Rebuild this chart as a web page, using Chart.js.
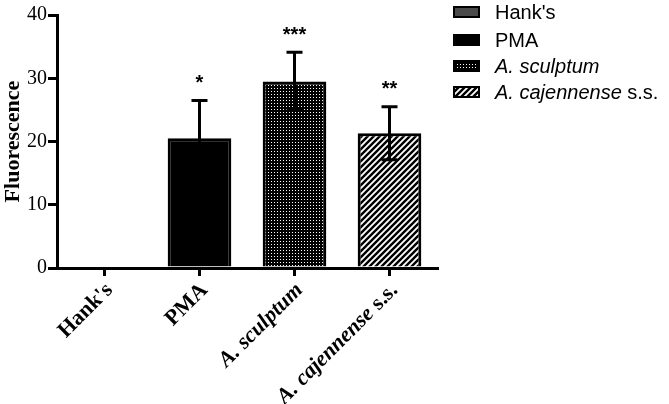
<!DOCTYPE html>
<html>
<head>
<meta charset="utf-8">
<script src="https://cdn.jsdelivr.net/npm/chart.js@4.4.1/dist/chart.umd.min.js"></script>
<style>
  body { margin: 0; background: #fff; }
  #wrap { width: 669px; height: 404px; }
</style>
</head>
<body>
<div id="wrap"><canvas id="plot-area"></canvas></div>
<script>
const categories = ["Hank's", "PMA", "A. sculptum", "A. cajennense s.s."];
// label pieces: [text, italic]
const labelParts = [
  [["Hank's", false]],
  [["PMA", false]],
  [["A. sculptum", true]],
  [["A. cajennense", true], [" s.s.", false]],
];
const means = [0, 20.5, 29.5, 21.3];
const sds = [0, 6.0, 4.6, 4.2];
const stars = ["", "*", "***", "**"];
const yTicks = [0, 10, 20, 30, 40];

function makeDots() {
  const c = document.createElement("canvas");
  c.width = 3; c.height = 3;
  const g = c.getContext("2d");
  g.fillStyle = "#000";
  g.fillRect(0, 0, 3, 3);
  g.fillStyle = "#fff";
  g.fillRect(1, 1, 1, 1);
  return g.createPattern(c, "repeat");
}

function makeHatch() {
  const c = document.createElement("canvas");
  c.width = 6; c.height = 6;
  const g = c.getContext("2d");
  g.fillStyle = "#fff";
  g.fillRect(0, 0, 6, 6);
  g.strokeStyle = "#000";
  g.lineWidth = 2.4;
  g.beginPath();
  g.moveTo(-3, 3); g.lineTo(3, -3);
  g.moveTo(0, 6); g.lineTo(6, 0);
  g.moveTo(3, 9); g.lineTo(9, 3);
  g.stroke();
  return g.createPattern(c, "repeat");
}

const fills = ["#4a4a4a", "#000000", makeDots(), makeHatch()];

function drawParts(ctx, parts, x, y, align, size, bold, family) {
  const fontOf = p => (p[1] ? "italic " : "") + (bold ? "bold " : "") + size + "px " + family;
  const w = parts.map(p => { ctx.font = fontOf(p); return ctx.measureText(p[0]).width; });
  const total = w.reduce((a, b) => a + b, 0);
  let cx = align === "right" ? x - total : x;
  ctx.textAlign = "left";
  parts.forEach((p, i) => {
    ctx.font = fontOf(p);
    ctx.fillText(p[0], cx, y);
    cx += w[i];
  });
}

const extras = {
  id: "extras",
  afterDatasetsDraw(chart) {
    const ctx = chart.ctx;
    const x = chart.scales.x, y = chart.scales.y;
    ctx.save();
    // error bars
    ctx.strokeStyle = "#000";
    ctx.lineWidth = 3;
    means.forEach((m, i) => {
      if (!sds[i]) return;
      const px = x.getPixelForValue(i);
      const top = y.getPixelForValue(m + sds[i]);
      const bot = y.getPixelForValue(m - sds[i]);
      ctx.beginPath();
      ctx.moveTo(px, bot); ctx.lineTo(px, top);
      ctx.moveTo(px - 8, top); ctx.lineTo(px + 8, top);
      ctx.moveTo(px - 8, bot); ctx.lineTo(px + 8, bot);
      ctx.stroke();
    });
    // significance stars
    ctx.fillStyle = "#000";
    ctx.font = "bold 20px 'Liberation Sans'";
    ctx.textAlign = "center";
    ctx.textBaseline = "middle";
    stars.forEach((s, i) => {
      if (!s) return;
      const px = x.getPixelForValue(i);
      const top = y.getPixelForValue(means[i] + sds[i]);
      ctx.fillText(s, px, top - 17);
    });
    // rotated category labels
    labelParts.forEach((parts, i) => {
      const px = x.getPixelForValue(i);
      ctx.save();
      ctx.translate(px + 5, y.bottom + 19);
      ctx.rotate(-Math.PI / 4);
      ctx.textBaseline = "middle";
      drawParts(ctx, parts, 0, 0, "right", 22, true, "'Liberation Serif'");
      ctx.restore();
    });
    // legend
    const rows = [12, 40, 66, 92];
    labelParts.forEach((parts, i) => {
      ctx.fillStyle = fills[i];
      ctx.fillRect(454, rows[i] - 5, 25, 10);
      ctx.strokeStyle = "#000";
      ctx.lineWidth = 2;
      ctx.strokeRect(454, rows[i] - 5, 25, 10);
      ctx.fillStyle = "#000";
      ctx.textBaseline = "middle";
      drawParts(ctx, parts, 495, rows[i] + 1, "left", 20, false, "'Liberation Sans'");
    });
    ctx.restore();
  }
};

const dataset1 = {
  label: "Fluorescence",
  data: means,
  backgroundColor: fills,
  borderColor: "#000",
  borderWidth: 3,
  borderSkipped: "bottom",
  barPercentage: 0.67,
  categoryPercentage: 1,
};

const config = {
  type: "bar",
  data: { labels: categories, datasets: [dataset1] },
  options: {
    responsive: true,
    maintainAspectRatio: false,
    animation: false,
    layout: { padding: { top: 15, right: 232, left: 0, bottom: 0 } },
    scales: {
      x: {
        grid: { display: true, drawOnChartArea: false, offset: false, tickLength: 8, lineWidth: 3, color: "#000" },
        border: { display: true, width: 3, color: "#000" },
        ticks: { display: false },
        afterFit: s => { s.height = 136; },
      },
      y: {
        min: 0,
        max: 40,
        afterBuildTicks: s => { s.ticks = yTicks.map(v => ({ value: v })); },
        grid: { display: true, drawOnChartArea: false, tickLength: 9, lineWidth: 3, color: "#000" },
        border: { display: true, width: 3, color: "#000" },
        ticks: { color: "#000", padding: 1, font: { family: "'Liberation Serif'", size: 20 } },
        title: { display: true, text: "Fluorescence", color: "#000", padding: 0,
                 font: { family: "'Liberation Serif'", size: 22, weight: "bold" } },
        afterFit: s => { s.width = 57; },
      },
    },
    plugins: { legend: { display: false }, tooltip: { enabled: false } },
  },
  plugins: [extras],
};

new Chart(document.getElementById("plot-area").getContext("2d"), config);
</script>
</body>
</html>
